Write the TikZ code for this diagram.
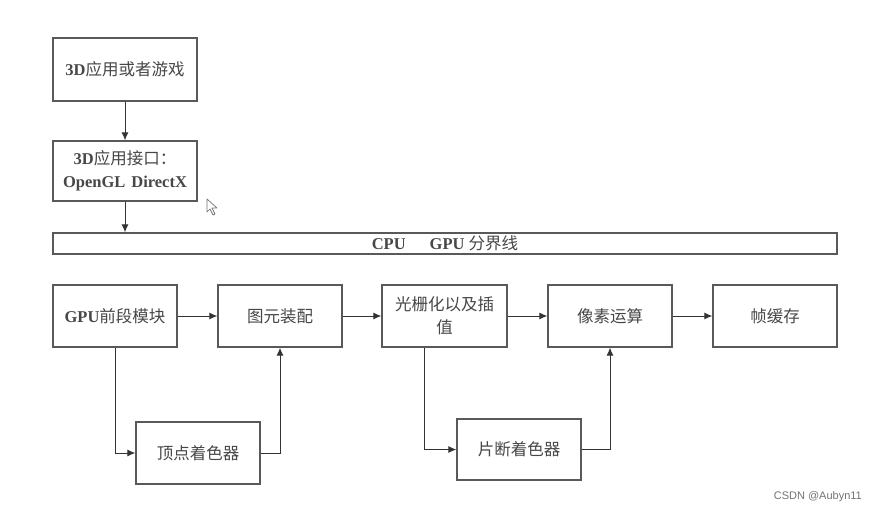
\documentclass[tikz,border=0pt]{standalone}
\usepackage{fontspec}
\setmainfont{Liberation Serif}
\newfontfamily\cjkf{Noto Sans CJK SC}
\newcommand{\cjk}{\cjkf\mdseries}
\newfontfamily\wm{Liberation Sans}
\usetikzlibrary{arrows.meta}
\begin{document}
\begin{tikzpicture}[x=1pt,y=-1pt,
  box/.style={draw=black!65,line width=1.3pt,fill=white,inner sep=0pt,
    font=\fontsize{16.5}{23}\selectfont\bfseries,text=black!72,align=center},
  arr/.style={draw=black!80,line width=1pt,-{Latex[length=8pt,width=7pt]}}]
\useasboundingbox (0,0) rectangle (880,516);
\fill[white] (0,0) rectangle (880,516);
% top column
\node[box,minimum width=144,minimum height=63] (app) at (125,69.5) {3D{\cjk 应用或者游戏}};
\node[box,minimum width=144,minimum height=60] (api) at (125,171) {3D{\cjk 应用接口：}\\OpenGL\hspace{6pt}DirectX};
\node[box,minimum width=784,minimum height=21] (bar) at (445,243.5) {CPU\hspace{24pt}GPU {\cjk 分界线}};
% main row
\node[box,minimum width=124,minimum height=62] (gpu) at (115,316) {GPU{\cjk 前段模块}};
\node[box,minimum width=124,minimum height=62] (prim) at (280,316) {\cjk 图元装配};
\node[box,minimum width=125,minimum height=62] (rast) at (444.5,316) {\cjk 光栅化以及插\\\cjk 值};
\node[box,minimum width=124,minimum height=62] (pix) at (610,316) {\cjk 像素运算};
\node[box,minimum width=124,minimum height=62] (fb) at (775,316) {\cjk 帧缓存};
% shaders
\node[box,minimum width=124,minimum height=62] (vs) at (198,453) {\cjk 顶点着色器};
\node[box,minimum width=124,minimum height=61] (fs) at (519,449.5) {\cjk 片断着色器};
% connectors
\draw[arr] (app) -- (api);
\draw[arr] (api) -- (api|-bar.north);
\draw[arr] (gpu) -- (prim);
\draw[arr] (prim) -- (rast);
\draw[arr] (rast) -- (pix);
\draw[arr] (pix) -- (fb);
\draw[arr] (gpu.south) |- (vs.west);
\draw[arr] (vs.east) -| (prim.south);
\draw[arr] ([xshift=-20pt]rast.south) |- (fs.west);
\draw[arr] (fs.east) -| (pix.south);
% cursor
\draw[black!55,line width=0.7pt,fill=white,line join=round] (207,199) -- (207,212) -- (210,209) -- (213,215) -- (215,214) -- (212,208) -- (217,208) -- cycle;
% watermark
\node[font=\wm\fontsize{11}{13}\selectfont,text=black!55,anchor=east,inner sep=0pt] (mark) at (862,497) {CSDN @Aubyn11};
\end{tikzpicture}
\end{document}
